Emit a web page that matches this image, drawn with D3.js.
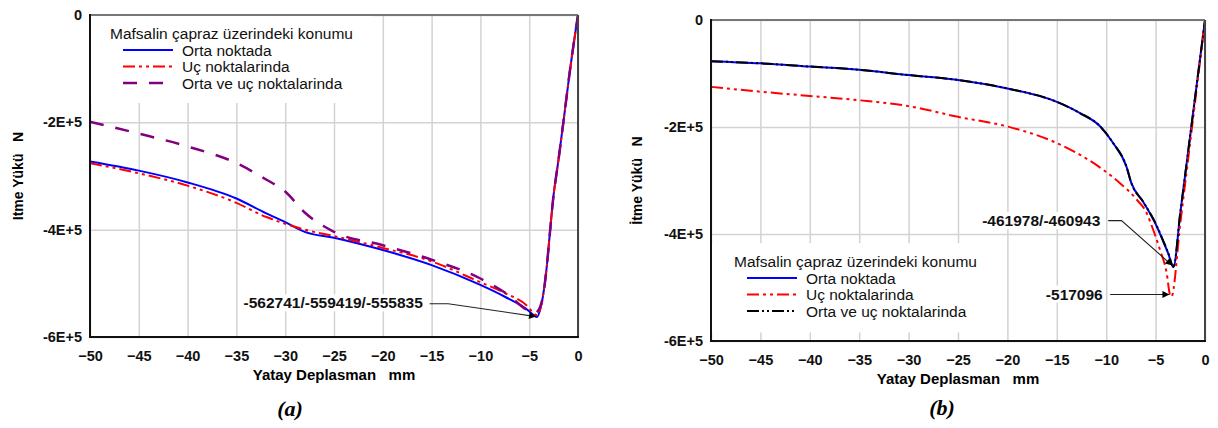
<!DOCTYPE html>
<html>
<head>
<meta charset="utf-8">
<script src="https://cdn.jsdelivr.net/npm/d3@7"></script>
<style>
body{margin:0;background:#fff}
svg{display:block;font-family:"Liberation Sans",Arial,sans-serif}
</style>
</head>
<body>
<svg id="chart" width="1218" height="428"></svg>
<script>
// ---- données ----
const xTicks=[-50,-45,-40,-35,-30,-25,-20,-15,-10,-5,0];
const yTicks=[0,-2e5,-4e5,-6e5];
const yTickLabels=['0','-2E+5','-4E+5','-6E+5'];
const legendTitle='Mafsalin çapraz üzerindeki konumu';
const seriesNames=['Orta noktada','Uç noktalarinda','Orta ve uç noktalarinda'];

// (a)
const dispA=[-50,-45,-40,-35,-32,-30,-28,-25,-20,-15,-10,-7.5,-5,-4.5,-4.2,-3.9,-3.6,-3.2,-2.9,-2.56,-2,-1.5,-0.8,0];
const ortaA=[-273000,-290000,-312000,-342000,-369000,-386000,-404000,-415000,-438000,-466000,-503000,-525000,-552000,-560000,-562741,-550000,-525000,-469000,-410000,-345000,-270000,-200000,-100000,0];
const ucA=[-276000,-295000,-318000,-350000,-376000,-389000,-400000,-412000,-434000,-459000,-498000,-518000,-546000,-557000,-559419,-550000,-525000,-469000,-410000,-345000,-270000,-200000,-100000,0];
const ortaUcA=[-199000,-221000,-245000,-276000,-306000,-329000,-368000,-404000,-429000,-456000,-491000,-517000,-552000,-555835,-553000,-545000,-525000,-469000,-410000,-345000,-270000,-200000,-100000,0];

// (b)
const dispB=[-50,-45,-40,-35,-30,-25,-20,-15,-12.65,-10.6,-9.3,-7.95,-7.45,-6.25,-4.9,-4.2,-3.71,-3.2,-2.5,-1.2,0];
const ortaB=[-77000,-81000,-87000,-93000,-103000,-112000,-128000,-153000,-174000,-199000,-230000,-274000,-305000,-340000,-385000,-415000,-437000,-461978,-361000,-173000,0];
const ortaUcB=[-77000,-81000,-87000,-93000,-103000,-112000,-128000,-153000,-174000,-199000,-230000,-274000,-305000,-340000,-384000,-414000,-436000,-460943,-360000,-173000,0];
const dispUcB=[-50,-45,-40,-35,-30,-25,-20,-15,-12.65,-10.3,-8.6,-6.9,-5.9,-5.57,-4.55,-3.88,-3.54,-3.4,-2.5,-1.2,0];
const ucB=[-125000,-134000,-142000,-150000,-161000,-181000,-199000,-230000,-252000,-280000,-305000,-336000,-361000,-376000,-430000,-473000,-514000,-517096,-380000,-183000,0];

// annotations (coordonnées données)
const notesA=[{text:'-562741/-559419/-555835',label:[-15.9,-536500],path:[[-15.2,-538000],[-13.3,-538000],[-4.3,-562000]]}];
const notesB=[
  {text:'-461978/-460943',label:[-10.6,-375000],path:[[-9.8,-375000],[-8.45,-375000],[-3.3,-459000]]},
  {text:'-517096',label:[-10.35,-512500],path:[[-9.6,-513000],[-3.6,-513000]]}
];

const styles=[
  {color:'#0000ff',dash:null,width:2},
  {color:'#ff0000',dash:'12,4,3,4,3,4',width:2},
  {color:'#800080',dash:'14,12',width:2.5},
  {color:'#000000',dash:'12,3,2,3,2,3',width:2}
];

const svg=d3.select('#chart');

svg.append('defs').append('marker')
  .attr('id','arr').attr('viewBox','0 0 10 10').attr('refX',10).attr('refY',5)
  .attr('markerWidth',13).attr('markerHeight',7).attr('markerUnits','userSpaceOnUse')
  .attr('orient','auto')
  .append('path').attr('d','M0,0L10,5L0,10z').attr('fill','#000');

function drawPanel(cfg){
  const g=svg.append('g');
  const x=d3.scaleLinear().domain([-50,0]).range([cfg.left,cfg.left+cfg.width]);
  const y=d3.scaleLinear().domain([-6e5,0]).range([cfg.top+cfg.height,cfg.top]);

  // grille + graduations
  const gx=g.append('g').attr('transform',`translate(0,${cfg.top+cfg.height})`)
    .call(d3.axisBottom(x).tickValues(xTicks).tickSize(-cfg.height).tickPadding(13.5));
  const gy=g.append('g').attr('transform',`translate(${cfg.left},0)`)
    .call(d3.axisLeft(y).tickValues(yTicks).tickFormat((d,i)=>yTickLabels[i]).tickSize(-cfg.width).tickPadding(8));
  [gx,gy].forEach(a=>{
    a.select('.domain').remove();
    a.selectAll('line').attr('stroke','#d3d3d3').attr('stroke-width',1.5);
    a.selectAll('text').attr('font-size',14.5).attr('font-weight','bold').attr('fill','#111')
      .attr('font-family','"Liberation Sans",Arial,sans-serif');
  });

  // titres des axes
  g.append('text').attr('x',(x.range()[0]+x.range()[1])/2).attr('y',cfg.top+cfg.height+43)
    .attr('text-anchor','middle').attr('font-size',15).attr('font-weight','bold')
    .style('white-space','pre').text('Yatay Deplasman   mm');
  g.append('text').attr('transform',`translate(${cfg.left-cfg.yTitleDx},${cfg.top+cfg.height/2}) rotate(-90)`)
    .attr('text-anchor','middle').attr('dy','0.35em').attr('font-size',14).attr('font-weight','bold')
    .style('white-space','pre').text(cfg.yTitle);

  // fond de la légende
  g.append('rect').attr('x',x(-50)+1).attr('y',y(cfg.legendBg[0])).attr('width',x(cfg.legendBg[2])-x(-50)-1)
    .attr('height',y(cfg.legendBg[1])-y(cfg.legendBg[0])).attr('fill','#fff');

  // courbes
  const line=d3.line().x(d=>x(d[0])).y(d=>y(d[1])).curve(d3.curveMonotoneX);
  cfg.series.forEach(s=>{
    const st=styles[s.style];
    g.append('path').datum(d3.zip(s.x,s.y)).attr('d',line)
      .attr('fill','none').attr('stroke',st.color).attr('stroke-width',st.width)
      .attr('stroke-dasharray',st.dash).attr('stroke-linejoin','round');
  });

  // légende
  const lg=g.append('g').attr('transform',`translate(${cfg.left+cfg.legendPos[0]},${cfg.legendPos[1]})`);
  lg.append('text').attr('x',0).attr('y',0).attr('font-size',15.5).attr('fill','#111').text(legendTitle);
  cfg.legendStyles.forEach((si,i)=>{
    const st=styles[si], yy=11+i*16.5;
    lg.append('line').attr('x1',13).attr('x2',63).attr('y1',yy).attr('y2',yy)
      .attr('stroke',st.color).attr('stroke-width',st.width).attr('stroke-dasharray',st.dash);
    lg.append('text').attr('x',72).attr('y',yy+5.5).attr('font-size',15.5).attr('fill','#111').text(seriesNames[i]);
  });

  // annotations
  cfg.notes.forEach(n=>{
    const t=g.append('text').attr('x',x(n.label[0])).attr('y',y(n.label[1])).attr('dy','0.35em')
      .attr('text-anchor','end').attr('font-size',15.5).attr('font-weight','bold').attr('fill','#111').text(n.text);
    const b=t.node().getBBox();
    g.insert('rect',()=>t.node()).attr('x',b.x-2).attr('y',b.y).attr('width',b.width+4).attr('height',b.height).attr('fill','#fff');
    g.append('path').attr('d',d3.line().x(d=>x(d[0])).y(d=>y(d[1]))(n.path))
      .attr('fill','none').attr('stroke','#222').attr('stroke-width',1.1).attr('marker-end','url(#arr)');
  });

  // cadre
  const x0=cfg.left,x1=cfg.left+cfg.width,y0=cfg.top,y1=cfg.top+cfg.height;
  g.append('line').attr('x1',x0).attr('x2',x1).attr('y1',y0).attr('y2',y0).attr('stroke','#777').attr('stroke-width',2);
  g.append('line').attr('x1',x1).attr('x2',x1).attr('y1',y0).attr('y2',y1).attr('stroke','#444').attr('stroke-width',2);
  g.append('line').attr('x1',x0).attr('x2',x0).attr('y1',y0-1).attr('y2',y1+1).attr('stroke','#111').attr('stroke-width',2);
  g.append('line').attr('x1',x0-1).attr('x2',x1+1).attr('y1',y1).attr('y2',y1).attr('stroke','#111').attr('stroke-width',2);

  // étiquette du panneau
  g.append('text').attr('x',cfg.tag[0]).attr('y',cfg.tag[1]).attr('text-anchor','middle')
    .attr('font-family','"Liberation Serif","Times New Roman",serif').attr('font-style','italic')
    .attr('font-weight','bold').attr('font-size',22).text(cfg.tagText);
}

drawPanel({
  left:90,top:15,width:488,height:322,
  yTitle:'Itme Yükü   N',yTitleDx:72,
  legendBg:[0,-164000,-21],legendPos:[20,39],legendStyles:[0,1,2],
  series:[{x:dispA,y:ortaA,style:0},{x:dispA,y:ucA,style:1},{x:dispA,y:ortaUcA,style:2}],
  notes:notesA,tag:[290,416],tagText:'(a)'
});
drawPanel({
  left:711,top:20,width:494,height:321,
  yTitle:'İtme Yükü   N',yTitleDx:74,
  legendBg:[-417000,-584000,-22],legendPos:[23,267],legendStyles:[0,1,3],
  series:[{x:dispB,y:ortaB,style:0},{x:dispUcB,y:ucB,style:1},{x:dispB,y:ortaUcB,style:3}],
  notes:notesB,tag:[942,415],tagText:'(b)'
});
</script>
</body>
</html>
